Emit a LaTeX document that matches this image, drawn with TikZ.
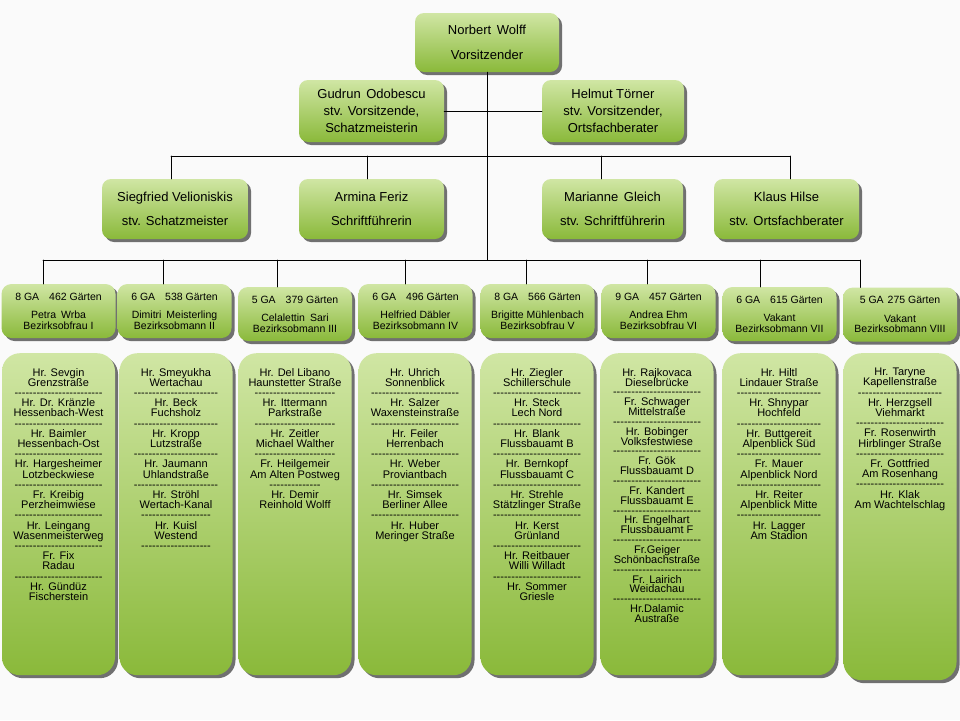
\documentclass[tikz,border=0pt]{standalone}
\usepackage{fontspec}
\setmainfont{Liberation Sans}
\newfontfamily\narrowfont{Liberation Sans}
\usetikzlibrary{shadows, calc}
\definecolor{boardBg}{RGB}{250,250,250}
\definecolor{leafLight}{RGB}{208,230,164}
\definecolor{leafDark}{RGB}{138,185,58}
\definecolor{shadowGray}{RGB}{112,112,112}
\newcommand{\dashrow}[1]{\foreach \k in {1,...,#1}{-\kern0pt}}
\newcommand{\gardenfont}[1]{\fontsize{11}{#1}\selectfont\lineskiplimit=-6pt\relax}
\tikzset{
  leaf/.style={draw=none, top color=leafLight, bottom color=leafDark, inner sep=0pt, align=center,
    drop shadow={shadow xshift=3pt, shadow yshift=-3pt, fill=shadowGray, opacity=1}},
  board/.style={leaf, rounded corners=9pt, font=\narrowfont\fontsize{13}{17}\selectfont},
  district/.style={leaf, rounded corners=10pt, minimum width=114pt, minimum height=54pt,
    font=\fontsize{10.5}{10.2}\selectfont},
  column/.style={leaf, rounded corners=18pt, minimum width=113pt},
  garden/.style={anchor=north, align=center, inner sep=0pt, font=\gardenfont{10.2}},
  link/.style={line width=0.9pt, black}
}

\begin{document}
\begin{tikzpicture}[x=1pt, y=-1pt, line cap=round]

  \fill[boardBg] (0,0) rectangle (960,720);
  \useasboundingbox (0,0) rectangle (960,720);

  \node[board, minimum width=144pt, minimum height=59pt] (wolff) at (487,42.5) {Norbert\hspace{2pt} Wolff\\[8pt]Vorsitzender};
  \node[board, minimum width=145pt, minimum height=62pt] (odobescu) at (371.5,111) {Gudrun\hspace{2pt} Odobescu\\stv. Vorsitzende,\\Schatzmeisterin};
  \node[board, minimum width=142pt, minimum height=62pt] (toerner) at (613,111) {Helmut Törner\\stv. Vorsitzender,\\Ortsfachberater};

  \node[board, minimum width=146pt, minimum height=60pt] (velioniskis) at (175,209) {Siegfried Velioniskis\\[7pt]stv. Schatzmeister};
  \node[board, minimum width=145pt, minimum height=60pt] (feriz) at (371.5,209) {Armina Feriz\\[7pt]Schriftführerin};
  \node[board, minimum width=141pt, minimum height=60pt] (gleich) at (612.5,209) {Marianne\hspace{2pt} Gleich\\[7pt]stv. Schriftführerin};
  \node[board, minimum width=145pt, minimum height=60pt] (hilse) at (786.5,209) {Klaus Hilse\\[7pt]stv. Ortsfachberater};

  \coordinate (bus) at (487,260);
  \draw[link] (wolff.south) -- (bus);
  \draw[link] (odobescu.east) -- (toerner.west);

  \foreach \x [count=\i] in {171,367,601,790} \coordinate (s\i) at (\x,156);
  \draw[link] (s1) -- (s4);
  \foreach \i/\n in {1/velioniskis, 2/feriz, 3/gleich, 4/hilse}
    \draw[link] (s\i) -- (s\i |- \n.north);

  \node[district] (bz1) at (58.5,311) {8 GA\hspace{10pt}462 Gärten\\[8.5pt]Petra\hspace{2pt} Wrba\\Bezirksobfrau I};
  \node[district] (bz2) at (174.5,311) {6 GA\hspace{10pt}538 Gärten\\[8.5pt]Dimitri\hspace{2pt} Meisterling\\Bezirksobmann II};
  \node[district] (bz3) at (295,314) {5 GA\hspace{10pt}379 Gärten\\[8.5pt]Celalettin\hspace{2pt} Sari\\Bezirksobmann III};
  \node[district] (bz4) at (415.5,311) {6 GA\hspace{10pt}496 Gärten\\[8.5pt]Helfried Däbler\\Bezirksobmann IV};
  \node[district] (bz5) at (537.5,311) {8 GA\hspace{10pt}566 Gärten\\[8.5pt]Brigitte Mühlenbach\\Bezirksobfrau V};
  \node[district] (bz6) at (658.5,311) {9 GA\hspace{10pt}457 Gärten\\[8.5pt]Andrea Ehm\\Bezirksobfrau VI};
  \node[district] (bz7) at (779.5,314) {6 GA\hspace{10pt}615 Gärten\\[8.5pt]Vakant\\Bezirksobmann VII};
  \node[district] (bz8) at (900,314.5) {5 GA\hspace{4pt}275 Gärten\\[8.5pt]Vakant\\Bezirksobmann VIII};

  \foreach \x [count=\i] in {43,163,277,405,526,647,760,860} \coordinate (b\i) at (\x,260);
  \draw[link] (b1) -- (b8);
  \foreach \i in {1,...,8}
    \draw[link] (b\i) -- (b\i |- bz\i.north);

  \foreach \cx/\h [count=\i] in {58.5/322,176/322,295/322,415/322,537/322,657/322,779/322,900/327}
    \node[column, minimum height=\h pt, anchor=north] (col\i) at (\cx,353) {};

  \node[garden] (lst1) at ($(col1.north)+(0,15)$) {Hr. Sevgin\\Grenzstraße\\\dashrow{24}\\
    Hr. Dr. Kränzle\\Hessenbach-West\\\dashrow{24}\\Hr. Baimler\\Hessenbach-Ost\\\dashrow{24}\\
    Hr. Hargesheimer\\Lotzbeckwiese\\\dashrow{24}\\Fr. Kreibig\\Perzheimwiese\\\dashrow{24}\\
    Hr. Leingang\\Wasenmeisterweg\\\dashrow{24}\\Fr. Fix\\Radau\\\dashrow{24}\\Hr. Gündüz\\Fischerstein};
  \node[garden] (lst2) at ($(col2.north)+(0,15)$) {Hr. Smeyukha\\Wertachau\\\dashrow{23}\\
    Hr. Beck\\Fuchsholz\\\dashrow{23}\\Hr. Kropp\\Lutzstraße\\\dashrow{23}\\
    Hr. Jaumann\\Uhlandstraße\\\dashrow{23}\\Hr. Ströhl\\Wertach-Kanal\\\dashrow{19}\\
    Hr. Kuisl\\Westend\\\dashrow{19}};
  \node[garden] (lst3) at ($(col3.north)+(0,15)$) {Hr. Del Libano\\Haunstetter Straße\\\dashrow{22}\\
    Hr. Ittermann\\Parkstraße\\\dashrow{22}\\Hr. Zeitler\\Michael Walther\\\dashrow{22}\\
    Fr. Heilgemeir\\Am Alten Postweg\\\dashrow{14}\\Hr. Demir\\Reinhold Wolff};
  \node[garden] (lst4) at ($(col4.north)+(0,15)$) {Hr. Uhrich\\Sonnenblick\\\dashrow{24}\\
    Hr. Salzer\\Waxensteinstraße\\\dashrow{24}\\Hr. Feiler\\Herrenbach\\\dashrow{24}\\
    Hr. Weber\\Proviantbach\\\dashrow{24}\\Hr. Simsek\\Berliner Allee\\\dashrow{24}\\
    Hr. Huber\\Meringer Straße};
  \node[garden] (lst5) at ($(col5.north)+(0,15)$) {Hr. Ziegler\\Schillerschule\\\dashrow{24}\\
    Hr. Steck\\Lech Nord\\\dashrow{24}\\Hr. Blank\\Flussbauamt B\\\dashrow{24}\\
    Hr. Bernkopf\\Flussbauamt C\\\dashrow{24}\\Hr. Strehle\\Stätzlinger Straße\\\dashrow{24}\\
    Hr. Kerst\\Grünland\\\dashrow{24}\\Hr. Reitbauer\\Willi Willadt\\\dashrow{24}\\
    Hr. Sommer\\Griesle};
  \node[garden, font=\gardenfont{9.85}] (lst6) at ($(col6.north)+(0,15)$) {Hr. Rajkovaca\\Dieselbrücke\\\dashrow{24}\\
    Fr. Schwager\\Mittelstraße\\\dashrow{24}\\Hr. Bobinger\\Volksfestwiese\\\dashrow{24}\\
    Fr. Gök\\Flussbauamt D\\\dashrow{24}\\Fr. Kandert\\Flussbauamt E\\\dashrow{24}\\
    Hr. Engelhart\\Flussbauamt F\\\dashrow{24}\\Fr.Geiger\\Schönbachstraße\\\dashrow{24}\\
    Fr. Lairich\\Weidachau\\\dashrow{24}\\Hr.Dalamic\\Austraße};
  \node[garden] (lst7) at ($(col7.north)+(0,15)$) {Hr. Hiltl\\Lindauer Straße\\\dashrow{23}\\
    Hr. Shnypar\\Hochfeld\\\dashrow{23}\\Hr. Buttgereit\\Alpenblick Süd\\\dashrow{23}\\
    Fr. Mauer\\Alpenblick Nord\\\dashrow{23}\\Hr. Reiter\\Alpenblick Mitte\\\dashrow{23}\\
    Hr. Lagger\\Am Stadion};
  \node[garden] (lst8) at ($(col8.north)+(0,15)$) {Hr. Taryne\\Kapellenstraße\\\dashrow{23}\\
    Hr. Herzgsell\\Viehmarkt\\\dashrow{24}\\Fr. Rosenwirth\\Hirblinger Straße\\\dashrow{24}\\
    Fr. Gottfried\\Am Rosenhang\\\dashrow{24}\\Hr. Klak\\Am Wachtelschlag};
\end{tikzpicture}
\end{document}
